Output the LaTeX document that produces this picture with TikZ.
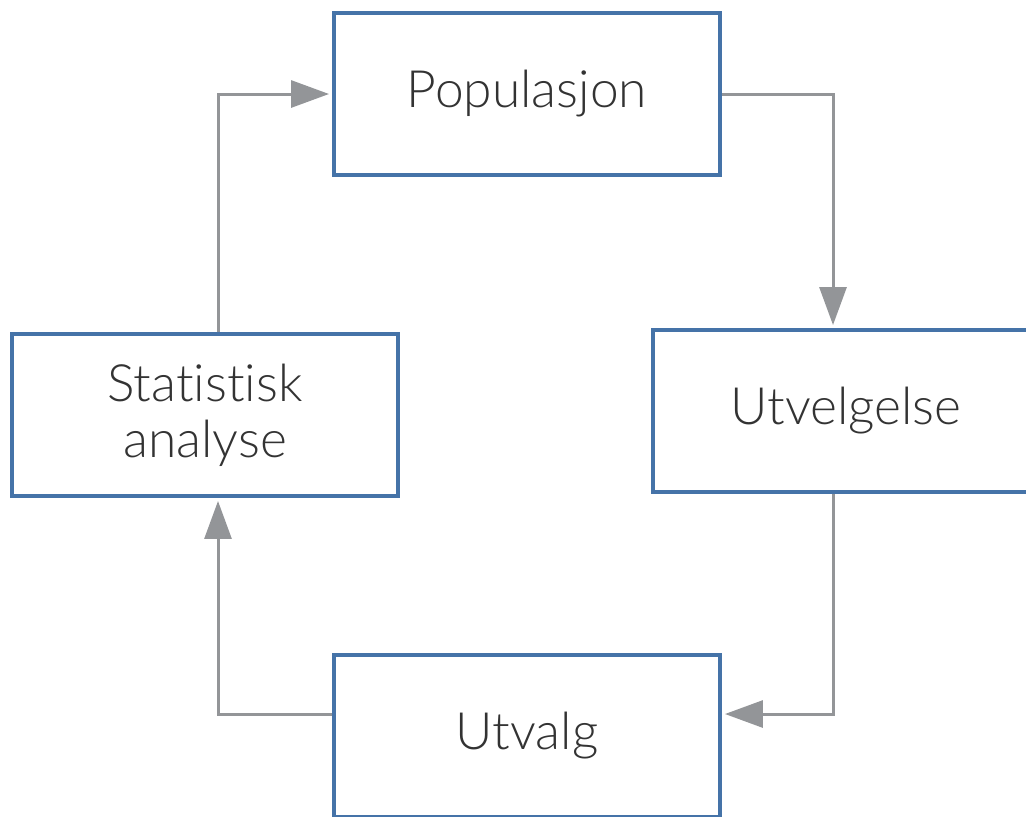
\documentclass[tikz,border=0pt]{standalone}
\usepackage{fontspec}
\setmainfont{Lato}[UprightFont=* Light, Ligatures=NoCommon]
\usetikzlibrary{arrows.meta}
\definecolor{boxblue}{HTML}{4573A8}
\definecolor{arrowgray}{HTML}{939598}
\definecolor{textgray}{HTML}{333333}

\begin{document}
\begin{tikzpicture}[x=0.02cm, y=-0.02cm,
  every node/.style={align=center, text=textgray, font=\fontsize{29.3}{32}\selectfont},
  stage/.style={draw=boxblue, line width=0.08cm, minimum width=7.72cm, minimum height=3.24cm, inner sep=0pt},
  flow/.style={draw=arrowgray, line width=0.06cm, -{Triangle[length=0.76cm, width=0.54cm]}, shorten >=0.06cm}]
\useasboundingbox (0,0) rectangle (1026,816);

\node (pop) [stage] at (527,94) {Populasjon};
\node (utv) [stage] at (846,411) {Utvelgelse};
\node (utvalg) [stage] at (527,736) {Utvalg};
\node (stat) [stage] at (205,415) {Statistisk\\analyse};

% lanes of the loop
\coordinate (rgt) at (833,0);
\coordinate (lft) at (218,0);
\coordinate (bot) at (0,714);

\draw[flow] (pop.east) -| (rgt |- utv.north);
\draw[flow] (utv.south -| rgt) |- (utvalg.east |- bot);
\draw[flow] (utvalg.west |- bot) -| (lft |- stat.south);
\draw[flow] (stat.north -| lft) |- (pop.west);
\end{tikzpicture}
\end{document}
